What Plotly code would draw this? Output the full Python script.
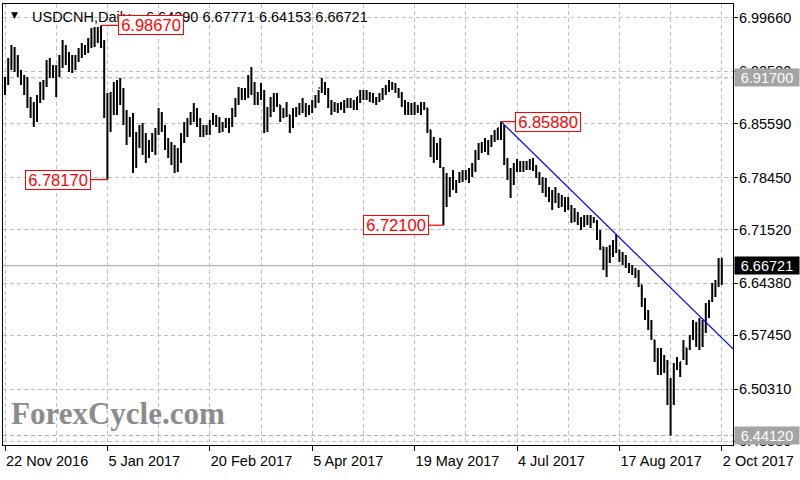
import plotly.graph_objects as go

# ---------------- data (USDCNH daily bars) ----------------
bar_index = list(range(225))

opens = [
    6.8981, 6.9141, 6.9380, 6.9473, 6.9340, 6.9234, 6.9141, 6.9035, 6.8848, 6.8716,
    6.8742, 6.8902, 6.9035, 6.9115, 6.9340, 6.9274, 6.9248, 6.9274, 6.9433, 6.9540,
    6.9433, 6.9367, 6.9380, 6.9460, 6.9540, 6.9553, 6.9593, 6.9673, 6.9740, 6.9766,
    6.9779, 6.9647, 6.8742, 6.8543, 6.8902, 6.8941, 6.9008, 6.8941, 6.8636, 6.8503,
    6.8543, 6.8144, 6.8343, 6.8410, 6.8277, 6.8210, 6.8277, 6.8343, 6.8476, 6.8636,
    6.8503, 6.8317, 6.8210, 6.8144, 6.8077, 6.8210, 6.8370, 6.8503, 6.8609, 6.8676,
    6.8716, 6.8583, 6.8476, 6.8450, 6.8503, 6.8583, 6.8636, 6.8583, 6.8529, 6.8556,
    6.8583, 6.8609, 6.8742, 6.8875, 6.8981, 6.8941, 6.9008, 6.9141, 6.9035, 6.8902,
    6.8941, 6.8981, 6.8609, 6.8742, 6.8875, 6.8902, 6.8809, 6.8716, 6.8742, 6.8676,
    6.8583, 6.8716, 6.8742, 6.8795, 6.8769, 6.8742, 6.8795, 6.8848, 6.8928, 6.9035,
    6.9088, 6.8981, 6.8822, 6.8769, 6.8795, 6.8769, 6.8809, 6.8822, 6.8848, 6.8822,
    6.8848, 6.8915, 6.8941, 6.8955, 6.8928, 6.8902, 6.8875, 6.8888, 6.8941, 6.9008,
    6.9061, 6.9088, 6.9061, 6.9008, 6.8941, 6.8822, 6.8742, 6.8769, 6.8742, 6.8769,
    6.8742, 6.8795, 6.8769, 6.8476, 6.8210, 6.8184, 6.8210, 6.7971, 6.7745, 6.7718,
    6.7785, 6.7745, 6.7785, 6.7864, 6.7878, 6.7891, 6.7944, 6.8011, 6.8144, 6.8237,
    6.8263, 6.8277, 6.8317, 6.8396, 6.8450, 6.8503, 6.8476, 6.8077, 6.7918, 6.7811,
    6.7971, 6.8011, 6.7997, 6.8011, 6.8037, 6.8051, 6.7984, 6.7878, 6.7811, 6.7705,
    6.7652, 6.7598, 6.7612, 6.7572, 6.7545, 6.7506, 6.7479, 6.7452, 6.7346, 6.7319,
    6.7279, 6.7253, 6.7279, 6.7306, 6.7279, 6.7266, 6.7106, 6.6920, 6.6720, 6.6854,
    6.6907, 6.6987, 6.6880, 6.6814, 6.6773, 6.6681, 6.6641, 6.6614, 6.6561, 6.6415,
    6.6215, 6.6056, 6.5923, 6.5683, 6.5523, 6.5284, 6.5444, 6.5350, 6.5018, 6.5085,
    6.5311, 6.5350, 6.5444, 6.5577, 6.5577, 6.5710, 6.5883, 6.5683, 6.5816, 6.5883,
    6.6082, 6.6215, 6.6375, 6.6415, 6.64390,
]

highs = [
    6.9181, 6.9433, 6.9607, 6.9580, 6.9473, 6.9274, 6.9208, 6.9181, 6.8915, 6.8848,
    6.8941, 6.9115, 6.9141, 6.9407, 6.9433, 6.9340, 6.9340, 6.9473, 6.9673, 6.9607,
    6.9513, 6.9473, 6.9473, 6.9567, 6.9633, 6.9607, 6.9700, 6.9833, 6.9846, 6.9846,
    6.9867, 6.9673, 6.8968, 6.8981, 6.9115, 6.9141, 6.9168, 6.9035, 6.8742, 6.8649,
    6.8702, 6.8450, 6.8543, 6.8569, 6.8436, 6.8343, 6.8436, 6.8503, 6.8769, 6.8716,
    6.8543, 6.8370, 6.8317, 6.8277, 6.8237, 6.8436, 6.8583, 6.8636, 6.8716, 6.8835,
    6.8769, 6.8636, 6.8543, 6.8543, 6.8609, 6.8702, 6.8676, 6.8649, 6.8583, 6.8636,
    6.8636, 6.8769, 6.8902, 6.9048, 6.9035, 6.9035, 6.9208, 6.9314, 6.9115, 6.8981,
    6.9101, 6.9008, 6.8782, 6.8915, 6.8968, 6.8968, 6.8809, 6.8769, 6.8848, 6.8676,
    6.8769, 6.8782, 6.8835, 6.8902, 6.8835, 6.8809, 6.8875, 6.8941, 6.9008, 6.9168,
    6.9115, 6.9035, 6.8875, 6.8848, 6.8835, 6.8848, 6.8875, 6.8902, 6.8902, 6.8875,
    6.8915, 6.9008, 6.9008, 6.9008, 6.8981, 6.8968, 6.8915, 6.8968, 6.9035, 6.9075,
    6.9141, 6.9115, 6.9101, 6.9035, 6.8981, 6.8875, 6.8848, 6.8835, 6.8848, 6.8809,
    6.8848, 6.8848, 6.8769, 6.8476, 6.8383, 6.8303, 6.8370, 6.7984, 6.7904, 6.7851,
    6.7944, 6.7811, 6.7918, 6.7944, 6.7944, 6.7971, 6.8037, 6.8210, 6.8303, 6.8317,
    6.8370, 6.8343, 6.8410, 6.8476, 6.8503, 6.8588, 6.8543, 6.8104, 6.7971, 6.8037,
    6.8091, 6.8064, 6.8064, 6.8064, 6.8091, 6.8104, 6.8011, 6.7918, 6.7851, 6.7838,
    6.7718, 6.7678, 6.7718, 6.7638, 6.7612, 6.7585, 6.7585, 6.7479, 6.7439, 6.7386,
    6.7319, 6.7346, 6.7346, 6.7346, 6.7319, 6.7279, 6.7146, 6.6920, 6.6920, 6.6947,
    6.7013, 6.7087, 6.6880, 6.6854, 6.6814, 6.6707, 6.6681, 6.6641, 6.6614, 6.6415,
    6.6242, 6.6082, 6.5949, 6.5683, 6.5577, 6.5577, 6.5484, 6.5417, 6.5178, 6.5377,
    6.5457, 6.5390, 6.5683, 6.5577, 6.5750, 6.5949, 6.5923, 6.5976, 6.5949, 6.6175,
    6.6215, 6.6441, 6.6481, 6.6773, 6.67771,
]

lows = [
    6.8941, 6.9075, 6.9274, 6.9248, 6.9181, 6.9075, 6.8941, 6.8769, 6.8636, 6.8516,
    6.8583, 6.8835, 6.8875, 6.9048, 6.9168, 6.9168, 6.8915, 6.9181, 6.9301, 6.9340,
    6.9248, 6.9234, 6.9274, 6.9380, 6.9433, 6.9473, 6.9500, 6.9567, 6.9580, 6.9633,
    6.9567, 6.8636, 6.7817, 6.8450, 6.8676, 6.8676, 6.8809, 6.8543, 6.8277, 6.8383,
    6.7904, 6.7971, 6.8237, 6.8144, 6.8037, 6.8104, 6.8184, 6.8144, 6.8410, 6.8450,
    6.8210, 6.8104, 6.8011, 6.7904, 6.7918, 6.8037, 6.8303, 6.8383, 6.8543, 6.8583,
    6.8516, 6.8383, 6.8383, 6.8410, 6.8410, 6.8543, 6.8516, 6.8436, 6.8450, 6.8503,
    6.8436, 6.8516, 6.8649, 6.8809, 6.8875, 6.8875, 6.8902, 6.8941, 6.8809, 6.8809,
    6.8875, 6.8436, 6.8450, 6.8649, 6.8716, 6.8782, 6.8583, 6.8636, 6.8649, 6.8436,
    6.8503, 6.8649, 6.8676, 6.8702, 6.8649, 6.8676, 6.8702, 6.8769, 6.8835, 6.8968,
    6.8941, 6.8769, 6.8676, 6.8716, 6.8702, 6.8742, 6.8702, 6.8769, 6.8769, 6.8742,
    6.8742, 6.8835, 6.8875, 6.8875, 6.8848, 6.8835, 6.8809, 6.8848, 6.8875, 6.8941,
    6.8981, 6.9008, 6.8968, 6.8902, 6.8782, 6.8676, 6.8676, 6.8676, 6.8676, 6.8702,
    6.8676, 6.8742, 6.8436, 6.8117, 6.8037, 6.8077, 6.7971, 6.7210, 6.7452, 6.7585,
    6.7678, 6.7638, 6.7771, 6.7785, 6.7811, 6.7771, 6.7851, 6.7918, 6.8077, 6.8170,
    6.8184, 6.8144, 6.8250, 6.8317, 6.8343, 6.8343, 6.8011, 6.7811, 6.7572, 6.7745,
    6.7918, 6.7918, 6.7918, 6.7944, 6.7944, 6.7931, 6.7838, 6.7745, 6.7638, 6.7585,
    6.7519, 6.7412, 6.7506, 6.7439, 6.7452, 6.7386, 6.7412, 6.7239, 6.7253, 6.7213,
    6.7146, 6.7186, 6.7213, 6.7173, 6.7239, 6.7013, 6.6880, 6.6614, 6.6521, 6.6707,
    6.6787, 6.6840, 6.6720, 6.6681, 6.6641, 6.6574, 6.6548, 6.6508, 6.6388, 6.6122,
    6.5949, 6.5816, 6.5683, 6.5390, 6.5218, 6.5218, 6.5244, 6.4819, 6.4412, 6.4819,
    6.5284, 6.5191, 6.5417, 6.5350, 6.5550, 6.5683, 6.5590, 6.5550, 6.5590, 6.5776,
    6.5976, 6.6189, 6.6255, 6.6388, 6.64153,
]

closes = [
    6.9141, 6.9380, 6.9473, 6.9340, 6.9234, 6.9141, 6.9035, 6.8848, 6.8716, 6.8742,
    6.8902, 6.9035, 6.9115, 6.9340, 6.9274, 6.9248, 6.9274, 6.9433, 6.9540, 6.9433,
    6.9367, 6.9380, 6.9460, 6.9540, 6.9553, 6.9593, 6.9673, 6.9740, 6.9766, 6.9779,
    6.9647, 6.8742, 6.8543, 6.8902, 6.8941, 6.9008, 6.8941, 6.8636, 6.8503, 6.8543,
    6.8144, 6.8343, 6.8410, 6.8277, 6.8210, 6.8277, 6.8343, 6.8476, 6.8636, 6.8503,
    6.8317, 6.8210, 6.8144, 6.8077, 6.8210, 6.8370, 6.8503, 6.8609, 6.8676, 6.8716,
    6.8583, 6.8476, 6.8450, 6.8503, 6.8583, 6.8636, 6.8583, 6.8529, 6.8556, 6.8583,
    6.8609, 6.8742, 6.8875, 6.8981, 6.8941, 6.9008, 6.9141, 6.9035, 6.8902, 6.8941,
    6.8981, 6.8609, 6.8742, 6.8875, 6.8902, 6.8809, 6.8716, 6.8742, 6.8676, 6.8583,
    6.8716, 6.8742, 6.8795, 6.8769, 6.8742, 6.8795, 6.8848, 6.8928, 6.9035, 6.9088,
    6.8981, 6.8822, 6.8769, 6.8795, 6.8769, 6.8809, 6.8822, 6.8848, 6.8822, 6.8848,
    6.8915, 6.8941, 6.8955, 6.8928, 6.8902, 6.8875, 6.8888, 6.8941, 6.9008, 6.9061,
    6.9088, 6.9061, 6.9008, 6.8941, 6.8822, 6.8742, 6.8769, 6.8742, 6.8769, 6.8742,
    6.8795, 6.8769, 6.8476, 6.8210, 6.8184, 6.8210, 6.8011, 6.7745, 6.7718, 6.7785,
    6.7745, 6.7785, 6.7864, 6.7878, 6.7891, 6.7944, 6.8011, 6.8144, 6.8237, 6.8263,
    6.8277, 6.8317, 6.8396, 6.8450, 6.8503, 6.8476, 6.8077, 6.7918, 6.7811, 6.7971,
    6.8011, 6.7997, 6.8011, 6.8037, 6.8051, 6.7984, 6.7878, 6.7811, 6.7705, 6.7652,
    6.7598, 6.7612, 6.7572, 6.7545, 6.7506, 6.7479, 6.7452, 6.7346, 6.7319, 6.7279,
    6.7253, 6.7279, 6.7306, 6.7279, 6.7266, 6.7106, 6.6920, 6.6720, 6.6854, 6.6907,
    6.6987, 6.6880, 6.6814, 6.6773, 6.6681, 6.6641, 6.6614, 6.6561, 6.6415, 6.6215,
    6.6056, 6.5923, 6.5710, 6.5523, 6.5284, 6.5444, 6.5350, 6.5018, 6.5085, 6.5311,
    6.5350, 6.5390, 6.5617, 6.5523, 6.5710, 6.5883, 6.5683, 6.5816, 6.5883, 6.6082,
    6.6149, 6.6375, 6.6415, 6.6441, 6.66721,
]

# x-axis labels (every 32 bars) and extra grid positions
tick_bars = [0, 32, 64, 96, 128, 160, 192, 224]
tick_labels = ["22 Nov 2016", "5 Jan 2017", "20 Feb 2017", "5 Apr 2017",
               "19 May 2017", "4 Jul 2017", "17 Aug 2017", "2 Oct 2017"]
minor_grid_bars = [16, 48, 80, 112, 144, 176, 208]

# price axis ticks
price_ticks = [6.99660, 6.92580, 6.85590, 6.78450, 6.71520,
               6.64380, 6.57450, 6.50310, 6.43380]

# horizontal level lines
level_lines = [6.91700, 6.44120]
bid_price = 6.66721

# swing-point labels: bar of the swing, price, label box edge (bar units), side
swing_bars = [30, 32, 137, 155]
swing_prices = [6.98670, 6.78170, 6.72100, 6.85880]
swing_box_edge = [35.3, 26.9, 132.5, 159.4]
swing_box_side = ["left", "right", "right", "left"]

# trend line anchors
trend_bars = [155, 191]
trend_prices = [6.85880, 6.70870]

x_range = [-0.625, 227.5]
y_range = [6.4287, 7.0152]

FONT = "Liberation Sans"
GRID = "#C0C0C0"

fig = go.Figure()

fig.add_trace(go.Ohlc(
    x=bar_index, open=opens, high=highs, low=lows, close=closes,
    increasing=dict(line=dict(color="#000000", width=2)),
    decreasing=dict(line=dict(color="#000000", width=2)),
    tickwidth=0.3, hoverinfo="skip", showlegend=False,
))

# trend line extended to the right edge of the chart
slope = (trend_prices[1] - trend_prices[0]) / (trend_bars[1] - trend_bars[0])
fig.add_trace(go.Scatter(
    x=[trend_bars[0], x_range[1]],
    y=[trend_prices[0], trend_prices[0] + slope * (x_range[1] - trend_bars[0])],
    mode="lines", line=dict(color="#0000FF", width=1.2),
    hoverinfo="skip", showlegend=False,
))

shapes = []
for lv in level_lines:
    shapes.append(dict(type="line", xref="paper", x0=0, x1=1, yref="y", y0=lv, y1=lv,
                       line=dict(color="#A8A8A8", width=1, dash="4px,3px"), layer="below"))
shapes.append(dict(type="line", xref="paper", x0=0, x1=1, yref="y", y0=bid_price, y1=bid_price,
                   line=dict(color="#B4B4B4", width=1.2), layer="below"))
for b, p, e in zip(swing_bars, swing_prices, swing_box_edge):
    shapes.append(dict(type="line", xref="x", yref="y", x0=b, x1=e, y0=p, y1=p,
                       line=dict(color="#FF0000", width=1.2)))

annotations = []
# header
annotations.append(dict(xref="paper", yref="paper", x=0.0082, y=0.975, xanchor="left", yanchor="middle",
                        text="▼", showarrow=False, font=dict(family="DejaVu Sans", size=9, color="#000000")))
annotations.append(dict(xref="paper", yref="paper", x=0.037, y=0.970, xanchor="left", yanchor="middle",
                        text="USDCNH,Daily", showarrow=False, font=dict(family=FONT, size=14.5, color="#000000")))
annotations.append(dict(xref="paper", yref="paper", x=0.193, y=0.970, xanchor="left", yanchor="middle",
                        text="6.64390 6.67771 6.64153 6.66721", showarrow=False,
                        font=dict(family=FONT, size=14.5, color="#000000")))
# watermark
annotations.append(dict(xref="paper", yref="paper", x=0.008, y=0.072, xanchor="left", yanchor="middle",
                        text="<b>ForexCycle.com</b>", showarrow=False,
                        font=dict(family="Liberation Serif", size=31, color="#8C8C8C")))
# swing labels
for p, e, side in zip(swing_prices, swing_box_edge, swing_box_side):
    annotations.append(dict(xref="x", yref="y", x=e, y=p, xanchor=side, yanchor="middle",
                            text=f"{p:.5f}", showarrow=False, width=62, height=16,
                            bgcolor="#FFFFFF", bordercolor="#FF0000", borderwidth=1, borderpad=1,
                            font=dict(family=FONT, size=16.5, color="#FF0000")))
# right-hand price tags
tag_x = (800 - 3) / 730
for lv in level_lines:
    annotations.append(dict(xref="paper", yref="y", x=tag_x, y=lv, xanchor="right", yanchor="middle",
                            text=f"{lv:.5f}", showarrow=False, width=64, height=17, borderpad=0,
                            bgcolor="#A4A4A4", font=dict(family=FONT, size=14.5, color="#FFFFFF")))
annotations.append(dict(xref="paper", yref="y", x=tag_x, y=bid_price, xanchor="right", yanchor="middle",
                        text=f"{bid_price:.5f}", showarrow=False, width=64, height=17, borderpad=0,
                        bgcolor="#000000", font=dict(family=FONT, size=14.5, color="#FFFFFF")))

fig.update_layout(
    width=800, height=480,
    margin=dict(l=3, r=67, t=4, b=35, autoexpand=False),
    paper_bgcolor="#FFFFFF", plot_bgcolor="#FFFFFF",
    showlegend=False,
    shapes=shapes, annotations=annotations,
    xaxis=dict(
        range=x_range, rangeslider=dict(visible=False), automargin=False,
        tickmode="array", tickvals=tick_bars, ticktext=tick_labels,
        ticks="outside", ticklen=5, tickcolor="#000000",
        ticklabelposition="outside right", ticklabelstandoff=3,
        tickfont=dict(family=FONT, size=14.5, color="#000000"),
        showgrid=True, gridcolor=GRID, griddash="4px,3px", gridwidth=1,
        minor=dict(tickmode="array", tickvals=minor_grid_bars, showgrid=True,
                   gridcolor=GRID, griddash="4px,3px", ticks=""),
        showline=True, linecolor="#000000", linewidth=1, mirror=True,
        zeroline=False, fixedrange=True,
    ),
    yaxis=dict(
        range=y_range, side="right", automargin=False,
        tickmode="array", tickvals=price_ticks, ticktext=[f"{v:.5f}" for v in price_ticks],
        ticks="outside", ticklen=4, tickcolor="#000000", ticklabelstandoff=-2,
        tickfont=dict(family=FONT, size=14.5, color="#000000"),
        showgrid=True, gridcolor=GRID, griddash="4px,3px", gridwidth=1,
        showline=True, linecolor="#000000", linewidth=1, mirror=True,
        zeroline=False, fixedrange=True,
    ),
)

# remove the browser's default 8px page margin so the 800x480 figure fills the window
fig.write_html("out.html", config={"displayModeBar": False},
               post_script="document.body.style.margin='0';document.body.style.overflow='hidden';")
